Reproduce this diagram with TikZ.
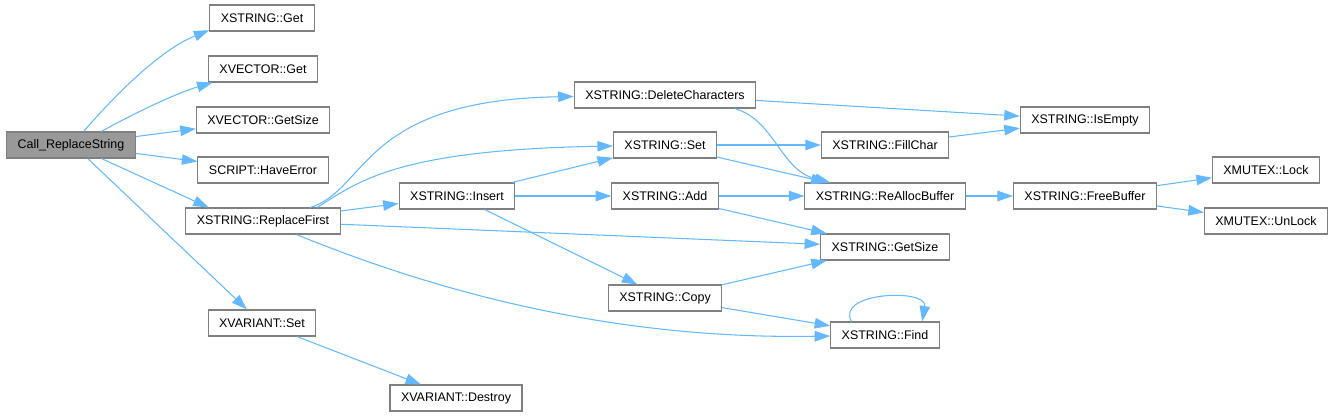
\documentclass[tikz,border=0pt]{standalone}
\usepackage{fontspec}
\setsansfont{Liberation Sans}
\usepackage{tikz}
\usetikzlibrary{arrows.meta,positioning,calc}
\definecolor{doxedge}{HTML}{63B8FF}
\definecolor{doxborder}{HTML}{808080}
\definecolor{doxroot}{HTML}{999999}
\tikzset{
  fnbox/.style={draw=doxborder, fill=white, line width=0.6pt, minimum height=0.52cm,
    inner xsep=0.22cm, inner ysep=0pt},
  rootbox/.style={fnbox, fill=doxroot},
  callarrow/.style={draw=doxedge, line width=0.6pt, -{Triangle[length=0.31cm, width=0.21cm]}}
}

\begin{document}
\begin{tikzpicture}[x=0.02cm, y=-0.02cm, font=\sffamily\fontsize{7.1}{8.5}\selectfont]
\useasboundingbox (0,0) rectangle (1333,417);

\node[rootbox] (call) at (71,145) {Call\_ReplaceString};
\node[fnbox] (xsget) at (262,18) {XSTRING::Get};
\node[fnbox] (xvget) at (263,69) {XVECTOR::Get};
\node[fnbox] (xvsize) at (263,120) {XVECTOR::GetSize};
\node[fnbox] (haveerr) at (263,170) {SCRIPT::HaveError};
\node[fnbox] (replfirst) at (263,221) {XSTRING::ReplaceFirst};
\node[fnbox] (xvset) at (262,323) {XVARIANT::Set};
\node[fnbox] (xvdestroy) at (456,398) {XVARIANT::Destroy};
\node[fnbox] (insert) at (457,196) {XSTRING::Insert};
\node[fnbox] (delchars) at (665,95) {XSTRING::DeleteCharacters};
\node[fnbox] (xsset) at (665,145) {XSTRING::Set};
\node[fnbox] (add) at (665,196) {XSTRING::Add};
\node[fnbox] (copy) at (665,298) {XSTRING::Copy};
\node[fnbox] (fillchar) at (885,145) {XSTRING::FillChar};
\node[fnbox] (realloc) at (885,196) {XSTRING::ReAllocBuffer};
\node[fnbox] (getsize) at (885,247) {XSTRING::GetSize};
\node[fnbox] (find) at (885,335) {XSTRING::Find};
\node[fnbox] (isempty) at (1085,120) {XSTRING::IsEmpty};
\node[fnbox] (freebuf) at (1085,196) {XSTRING::FreeBuffer};
\node[fnbox] (lock) at (1266,170) {XMUTEX::Lock};
\node[fnbox] (unlock) at (1266,221) {XMUTEX::UnLock};

\draw[callarrow] (call.47) .. controls (115,95) and (160,50) .. (xsget.193);
\draw[callarrow] (call.24) .. controls (140,110) and (180,92) .. (xvget.195);
\draw[callarrow] (call) -- (xvsize);
\draw[callarrow] (call) -- (haveerr);
\draw[callarrow] (call.-24) -- (replfirst.166);
\draw[callarrow] (call.-39) -- (xvset.138);
\draw[callarrow] (xvset) -- (xvdestroy);

\draw[callarrow] (replfirst.16) .. controls (368,190) and (360,100) .. (delchars);
\draw[callarrow] (replfirst.14) .. controls (360,180) and (400,150) .. (xsset);
\draw[callarrow] (replfirst) -- (insert);
\draw[callarrow] (replfirst) -- (getsize);
\draw[callarrow] (replfirst.-22) .. controls (420,285) and (600,340) .. (find);

\draw[callarrow] (insert) -- (xsset);
\draw[callarrow] (insert) -- (add);
\draw[callarrow] (insert) -- (copy);

\draw[callarrow] (delchars) -- (isempty);
\draw[callarrow] (delchars.-11) .. controls (775,120) and (780,170) .. (realloc);
\draw[callarrow] (xsset) -- (fillchar);
\draw[callarrow] (xsset) -- (realloc);
\draw[callarrow] (fillchar) -- (isempty);
\draw[callarrow] (add) -- (realloc);
\draw[callarrow] (add) -- (getsize);
\draw[callarrow] (copy) -- (getsize);
\draw[callarrow] (copy) -- (find);
\draw[callarrow] (find.158) .. controls (835,292) and (928,288) .. (find.20);

\draw[callarrow] (realloc) -- (freebuf);
\draw[callarrow] (freebuf) -- (lock);
\draw[callarrow] (freebuf) -- (unlock);
\end{tikzpicture}
\end{document}
